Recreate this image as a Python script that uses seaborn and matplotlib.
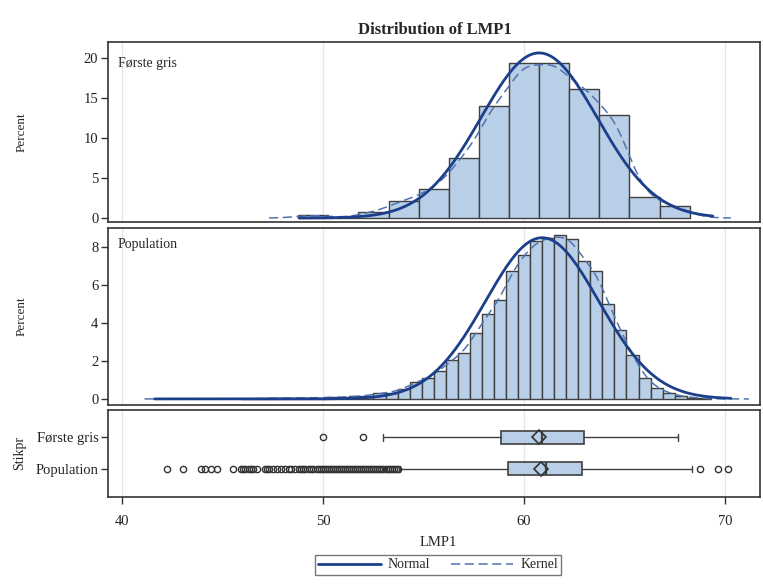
import numpy as np
import pandas as pd
import matplotlib
matplotlib.use("Agg")
import matplotlib.pyplot as plt
import seaborn as sns
from matplotlib.lines import Line2D

# ---- data ----
# Første gris histogram, bin width 1.5 (midpoints / percent)
first_mid = [49.5, 51.0, 52.5, 54.0, 55.5, 57.0, 58.5, 60.0, 61.5, 63.0, 64.5, 66.0, 67.5]
first_pct = [0.41, 0.0, 0.75, 2.16, 3.6, 7.55, 14.0, 19.4, 19.4, 16.1, 12.9, 2.57, 1.54]

# Population histogram, bin width 0.6
pop_mid = [46.2, 46.8, 47.4, 48.0, 48.6, 49.2, 49.8, 50.4, 51.0, 51.6, 52.2, 52.8, 53.4,
           54.0, 54.6, 55.2, 55.8, 56.4, 57.0, 57.6, 58.2, 58.8, 59.4, 60.0, 60.6, 61.2,
           61.8, 62.4, 63.0, 63.6, 64.2, 64.8, 65.4, 66.0, 66.6, 67.2, 67.8, 68.4, 69.0]
pop_pct = [0.02, 0.02, 0.04, 0.03, 0.05, 0.05, 0.06, 0.08, 0.10, 0.13, 0.17, 0.30, 0.33,
           0.54, 0.87, 1.10, 1.47, 2.06, 2.41, 3.48, 4.46, 5.21, 6.72, 7.57, 8.29, 8.47,
           8.61, 8.41, 7.25, 6.73, 5.02, 3.61, 2.33, 1.12, 0.60, 0.30, 0.15, 0.07, 0.03]

# fitted normal parameters (mean, sd)
first_norm = (60.75, 2.90)
pop_norm = (60.90, 2.82)

# box plot statistics
groups = ["Første gris", "Population"]
first_box = dict(q1=58.87, med=60.91, q3=63.0, whislo=53.0, whishi=67.68, mean=60.73,
                 fliers=[50.0, 52.0])
pop_fliers = [42.2, 43.0, 43.9, 44.1, 44.4, 44.7, 45.5, 45.9, 46.0, 46.1, 46.3, 46.4,
              46.5, 46.7, 47.1, 47.2, 47.3, 47.5, 47.7, 47.9, 48.1, 48.3, 48.4, 48.6,
              48.8, 48.9, 49.0, 49.1, 49.3, 49.4, 49.5, 49.7, 49.8, 49.9, 50.0, 50.1,
              50.2, 50.3, 50.4, 50.5, 50.6, 50.7, 50.8, 50.9, 51.0, 51.1, 51.2, 51.3,
              51.4, 51.5, 51.6, 51.7, 51.8, 51.9, 52.0, 52.1, 52.2, 52.3, 52.4, 52.5,
              52.6, 52.7, 52.8, 52.9, 53.0, 53.1, 53.2, 53.3, 53.4, 53.5, 53.6, 53.7,
              68.77, 69.67, 70.18]
pop_box = dict(q1=59.19, med=61.11, q3=62.9, whislo=53.8, whishi=68.36, mean=60.86,
               fliers=pop_fliers)

# ---- style ----
sns.set_style("white")
plt.rcParams['font.family'] = ['Liberation Serif', 'DejaVu Serif']

BAR = "#b9cfe7"
EDGE = "#404040"
NORMAL_C = "#1c3f8c"
KERNEL_C = "#4f74b0"
FRAME = "#333333"
GRID = "#e6e6e6"

W, H = 763, 585
fig = plt.figure(figsize=(W / 100, H / 100), dpi=100)


def px_axes(l, t, r, b):
    return fig.add_axes([l / W, 1 - b / H, (r - l) / W, (b - t) / H])


def normal_curve(mu, sd, width, lo, hi):
    x = np.linspace(lo, hi, 400)
    y = 100 * width * np.exp(-0.5 * ((x - mu) / sd) ** 2) / (sd * np.sqrt(2 * np.pi))
    return x, y


def kernel_curve(mids, pcts, width, h, lo, hi):
    x = np.linspace(lo, hi, 400)
    m = np.asarray(mids)[:, None]
    p = np.asarray(pcts)[:, None]
    y = (p * width * np.exp(-0.5 * ((x - m) / h) ** 2) / (h * np.sqrt(2 * np.pi))).sum(0)
    return x, y


def frame(ax):
    for s in ax.spines.values():
        s.set_color(FRAME)
        s.set_linewidth(1.2)
    for v in [40, 50, 60, 70]:
        ax.axvline(v, color=GRID, lw=0.9, zorder=0)


XLIM = (39.28, 71.75)
LEFT, RIGHT = 108, 760

panels = [
    (42, 222, first_mid, first_pct, 1.5, (48.75, 68.25), first_norm, (48.8, 69.4),
     0.85, (47.3, 70.3), (-0.5, 22.0), [0, 5, 10, 15, 20], "Første gris", 64),
    (228, 405, pop_mid, pop_pct, 0.6, (45.9, 69.3), pop_norm, (41.6, 70.3),
     0.45, (41.1, 71.2), (-0.32, 9.0), [0, 2, 4, 6, 8], "Population", 244),
]

for top, bot, mids, pcts, width, brange, (mu, sd), nrange, h, krange, ylim, yt, lab, laby in panels:
    ax = px_axes(LEFT, top, RIGHT, bot)
    frame(ax)
    sns.histplot(x=mids, weights=pcts, binwidth=width, binrange=brange, ax=ax,
                 color=BAR, edgecolor=EDGE, linewidth=1.0, alpha=1, zorder=2)
    xn, yn = normal_curve(mu, sd, width, *nrange)
    sns.lineplot(x=xn, y=yn, ax=ax, color=NORMAL_C, lw=2.0, zorder=4)
    xk, yk = kernel_curve(mids, pcts, width, h, *krange)
    sns.lineplot(x=xk, y=yk, ax=ax, color=KERNEL_C, lw=1.1, zorder=3)
    ax.lines[-1].set_linestyle((0, (6, 3)))
    ax.set_xlim(*XLIM)
    ax.set_ylim(*ylim)
    ax.set_yticks(yt)
    ax.set_xticks([])
    ax.set_xlabel("")
    ax.set_ylabel("")
    ax.tick_params(axis="y", left=True, length=5, width=1, color=FRAME, pad=2,
                   labelsize=10.5, labelcolor="#222222")
    fig.text(118 / W, 1 - laby / H, lab, fontsize=10, va="center", ha="left")
    fig.text(22 / W, 1 - (top + bot) / 2 / H, "Percent", rotation=90, fontsize=9.5,
             va="center", ha="center")

# ---- box plot panel ----
axb = px_axes(LEFT, 410, RIGHT, 497)
frame(axb)
axb.bxp([first_box, pop_box], positions=[1, 2], vert=False, widths=0.41,
        patch_artist=True, showmeans=True, capwidths=0.2,
        boxprops=dict(facecolor=BAR, edgecolor=EDGE, linewidth=1.2),
        medianprops=dict(color=EDGE, linewidth=1.6),
        whiskerprops=dict(color=EDGE, linewidth=1.0),
        capprops=dict(color=EDGE, linewidth=1.0),
        flierprops=dict(marker="o", markersize=4.5, markerfacecolor="none",
                        markeredgecolor="#333333", markeredgewidth=1.0),
        meanprops=dict(marker="D", markersize=7.5, markerfacecolor="none",
                       markeredgecolor="#333333", markeredgewidth=1.2))
axb.set_xlim(*XLIM)
axb.set_ylim(2.89, 0.13)
axb.set_yticks([1, 2])
axb.set_yticklabels(groups)
axb.set_xticks([40, 50, 60, 70])
axb.tick_params(axis="both", length=5, width=1, color=FRAME, labelsize=10.5,
                labelcolor="#222222", bottom=True, left=True)
axb.tick_params(axis="x", pad=8)
axb.tick_params(axis="y", pad=2)
fig.text(20 / W, 1 - 453 / H, "Stikpr", rotation=90, fontsize=10, va="center", ha="center")
fig.text(438 / W, 1 - 543 / H, "LMP1", fontsize=10.5, va="center", ha="center")

fig.text(435 / W, 1 - 30 / H, "Distribution of LMP1", fontsize=12, fontweight="bold",
         va="center", ha="center")

handles = [Line2D([], [], color=NORMAL_C, lw=2.0),
           Line2D([], [], color=KERNEL_C, lw=1.1, linestyle=(0, (6, 3)))]
leg = fig.legend(handles, ["Normal", "Kernel"], loc="center",
                 bbox_to_anchor=(438 / W, 1 - 565 / H), ncol=2, frameon=True,
                 fancybox=False, edgecolor="#555555", fontsize=10, handlelength=4.5,
                 borderpad=0.25, columnspacing=1.5, handletextpad=0.5)
leg.get_frame().set_linewidth(1.0)

fig.savefig("out.png", dpi=100)
